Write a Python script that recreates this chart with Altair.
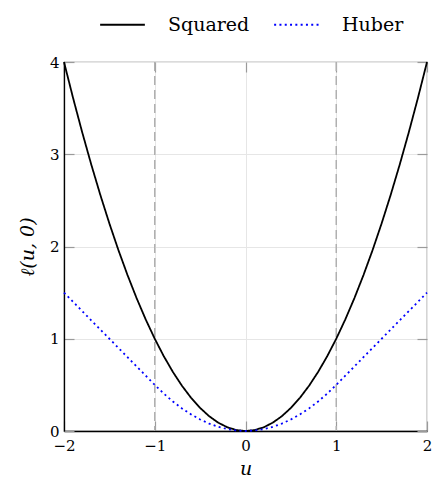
import altair as alt
import pandas as pd

u_vals = [-2.0, -1.9, -1.8, -1.7, -1.6, -1.5, -1.4, -1.3, -1.2, -1.1, -1.0,
          -0.9, -0.8, -0.7, -0.6, -0.5, -0.4, -0.3, -0.2, -0.1, 0.0,
          0.1, 0.2, 0.3, 0.4, 0.5, 0.6, 0.7, 0.8, 0.9, 1.0,
          1.1, 1.2, 1.3, 1.4, 1.5, 1.6, 1.7, 1.8, 1.9, 2.0]
squared_vals = [4.00, 3.61, 3.24, 2.89, 2.56, 2.25, 1.96, 1.69, 1.44, 1.21, 1.00,
                0.81, 0.64, 0.49, 0.36, 0.25, 0.16, 0.09, 0.04, 0.01, 0.00,
                0.01, 0.04, 0.09, 0.16, 0.25, 0.36, 0.49, 0.64, 0.81, 1.00,
                1.21, 1.44, 1.69, 1.96, 2.25, 2.56, 2.89, 3.24, 3.61, 4.00]
huber_vals = [1.50, 1.40, 1.30, 1.20, 1.10, 1.00, 0.90, 0.80, 0.70, 0.60, 0.50,
              0.405, 0.32, 0.245, 0.18, 0.125, 0.08, 0.045, 0.02, 0.005, 0.00,
              0.005, 0.02, 0.045, 0.08, 0.125, 0.18, 0.245, 0.32, 0.405, 0.50,
              0.60, 0.70, 0.80, 0.90, 1.00, 1.10, 1.20, 1.30, 1.40, 1.50]
series_names = ["Squared", "Huber"]
x_ticks = [-2, -1, 0, 1, 2]
y_ticks = [0, 1, 2, 3, 4]
threshold_u = [-1, 1]

rows = []
for name, vals in zip(series_names, [squared_vals, huber_vals]):
    for uu, v in zip(u_vals, vals):
        rows.append({"u": uu, "loss": v, "series": name})
df = pd.DataFrame(rows)

FONT = "DejaVu Serif"
xscale = alt.Scale(domain=[-2, 2], nice=False, zero=False)
yscale = alt.Scale(domain=[0, 4], nice=False, zero=False)

legend = alt.Legend(
    title=None, orient="none", legendX=35, legendY=-61, direction="horizontal",
    symbolType="stroke", symbolSize=2000, symbolStrokeWidth=1.8,
    labelFont=FONT, labelFontSize=19, labelColor="black", labelOffset=22,
    columnPadding=20,
)

lines = alt.Chart(df).mark_line(strokeWidth=1.8).encode(
    x=alt.X("u:Q", scale=xscale, axis=alt.Axis(
        orient="bottom", values=x_ticks, title="u", titleFontStyle="italic",
        titleFont=FONT, titleFontSize=19, titleFontWeight="normal",
        titleY=43, titleBaseline="alphabetic",
        titleColor="black", labelColor="black",
        labelFont=FONT, labelFontSize=15, labelPadding=7, labelFlush=False,
        ticks=False, domain=True, domainColor="black", domainWidth=1.3,
        grid=True, gridColor="#e6e6e6")),
    y=alt.Y("loss:Q", scale=yscale, axis=alt.Axis(
        orient="left", values=y_ticks, title="ℓ(u, 0)", titleFontStyle="italic",
        titleFont=FONT, titleFontSize=19, titleFontWeight="normal", titlePadding=12,
        titleColor="black", labelColor="black",
        labelFont=FONT, labelFontSize=15, labelPadding=5, labelFlush=False,
        ticks=False, domain=True, domainColor="black", domainWidth=1.3,
        grid=True, gridColor="#e6e6e6")),
    color=alt.Color("series:N", scale=alt.Scale(domain=series_names, range=["black", "#0000ff"]),
                    legend=legend),
    strokeDash=alt.StrokeDash("series:N", scale=alt.Scale(domain=series_names, range=[[1, 0], [2, 3.3]]),
                              legend=legend),
)

tick_df = pd.DataFrame({"u": x_ticks, "loss": y_ticks})


def tick_layer(xo, yo):
    return alt.Chart(tick_df).mark_point(opacity=0).encode(
        x=alt.X("u:Q", scale=xscale, axis=alt.Axis(
            orient=xo, offset=-10, values=x_ticks, labels=False, title="", domain=False,
            grid=False, ticks=True, tickSize=10, tickColor="#9a9a9a", tickWidth=1.2)),
        y=alt.Y("loss:Q", scale=yscale, axis=alt.Axis(
            orient=yo, offset=-10, values=y_ticks, labels=False, title="", domain=False,
            grid=False, ticks=True, tickSize=10, tickColor="#9a9a9a", tickWidth=1.2)),
    )


rules = alt.Chart(pd.DataFrame({"u": threshold_u})).mark_rule(
    color="#b0b0b0", strokeDash=[9, 5], strokeWidth=1.5
).encode(x=alt.X("u:Q", scale=xscale, axis=None))

chart = alt.layer(
    rules, tick_layer("bottom", "left"), tick_layer("top", "right"), lines
).resolve_axis(x="independent", y="independent").properties(
    width=363, height=369,
    autosize=alt.AutoSizeParams(type="none"),
    padding={"left": 56, "top": 54, "right": 5, "bottom": 46},
).configure_view(stroke="#707070", strokeWidth=1.2)

chart.save("out.html", embed_options={"renderer": "svg", "actions": False})
